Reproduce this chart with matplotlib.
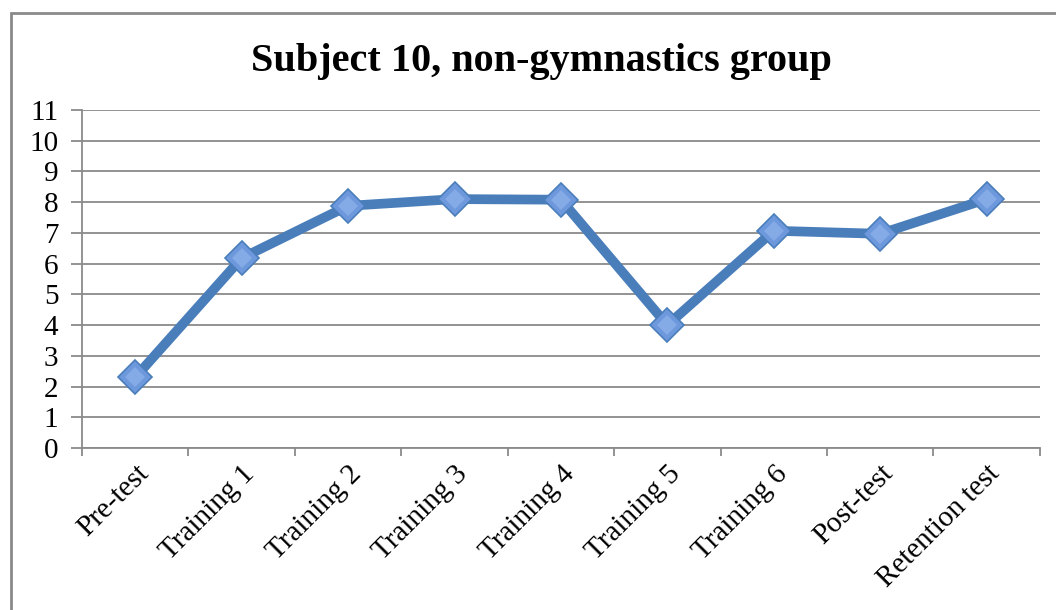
import matplotlib

matplotlib.use("Agg")
import matplotlib.pyplot as plt
from matplotlib.patches import Rectangle

# Session labels and scores
sessions = ["Pre-test", "Training 1", "Training 2", "Training 3", "Training 4",
            "Training 5", "Training 6", "Post-test", "Retention test"]
scores = [2.3, 6.18, 7.88, 8.1, 8.08, 4.0, 7.07, 6.97, 8.1]
y_ticks = list(range(0, 12))

_LINE = "#4a7ebb"
_MARKER_FACE = "#6e98dc"
_MARKER_HI = "#8fb4ec"
_GRID = "#8a8a8a"

plt.rcParams["font.family"] = ["Liberation Serif", "DejaVu Serif"]

fig = plt.figure(figsize=(10.56, 6.10), dpi=100)
ax = fig.add_axes([0.0777, 0.2656, 0.907, 0.5541])

x = list(range(len(sessions)))
ax.plot(x, scores, color=_LINE, linewidth=7, solid_joinstyle="miter", zorder=3)
ax.plot(x, scores, linestyle="none", marker="D", markersize=17,
        markerfacecolor=_MARKER_FACE, markeredgecolor=_LINE, markeredgewidth=1.2, zorder=4)
# lighter inner diamond gives a hint of the original gradient fill
ax.plot(x, scores, linestyle="none", marker="D", markersize=10,
        markerfacecolor=_MARKER_HI, markeredgewidth=0, alpha=0.7, zorder=5)

ax.set_xlim(-0.5, len(sessions) - 0.5)
ax.set_ylim(0, 11)
ax.set_yticks(y_ticks)
ax.set_yticklabels([str(v) for v in y_ticks], fontsize=21)
ax.yaxis.grid(True, color=_GRID, linewidth=1.3)
ax.set_axisbelow(True)

ax.set_xticks(x)
ax.set_xticklabels(sessions, rotation=45, ha="right", rotation_mode="anchor", fontsize=21)
ax.set_xticks([i - 0.5 for i in range(len(sessions) + 1)], minor=True)
ax.tick_params(axis="x", which="major", length=0, pad=9)
ax.tick_params(axis="x", which="minor", length=6, width=1.3, color=_GRID)
ax.tick_params(axis="y", length=8, width=1.3, color=_GRID, pad=9)

for side in ("top", "right"):
    ax.spines[side].set_visible(False)
for side in ("left", "bottom"):
    ax.spines[side].set_color(_GRID)
    ax.spines[side].set_linewidth(1.3)

fig.text(0.513, 0.9, "Subject 10, non-gymnastics group", ha="center", va="center",
         fontsize=29, fontweight="bold")

# outer chart frame, running off the right and bottom edges
fig.patches.append(Rectangle((11 / 1056, -0.1), 1.2, (610 - 13) / 610 + 0.1,
                             transform=fig.transFigure, fill=False,
                             edgecolor=_GRID, linewidth=2))

fig.savefig("out.png", dpi=100, facecolor="white")
